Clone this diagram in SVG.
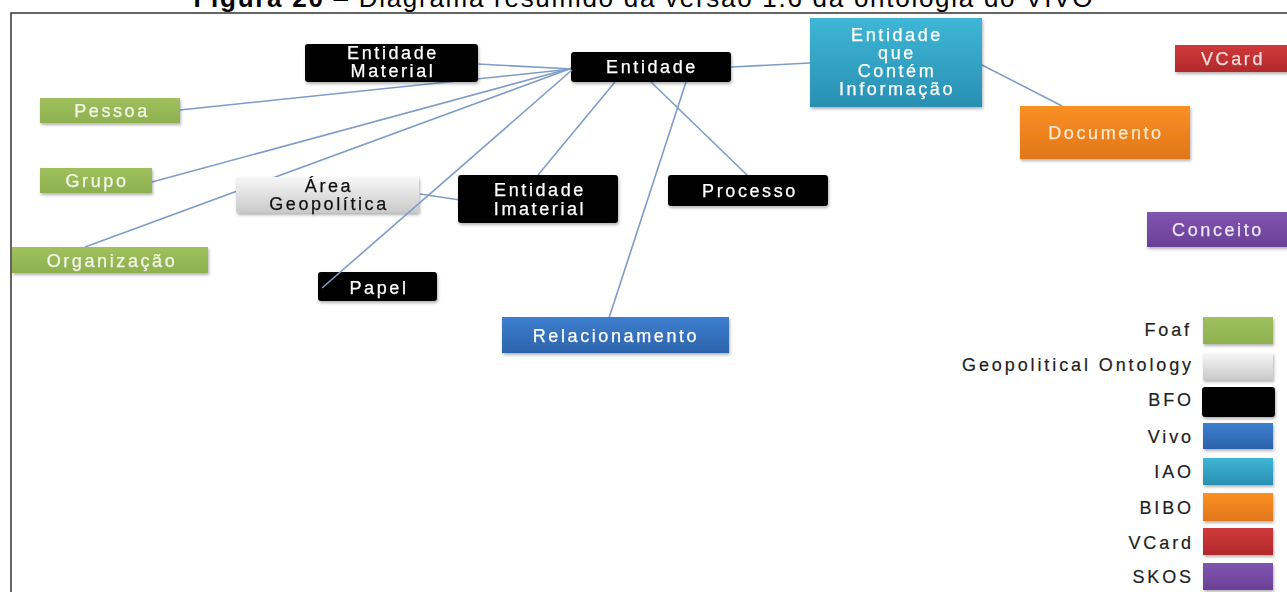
<svg xmlns="http://www.w3.org/2000/svg" width="1287" height="592" viewBox="0 0 1287 592">
<defs>
<style>
.t{font-family:"Liberation Sans",Arial,sans-serif;font-size:18px;letter-spacing:2.6px;text-anchor:middle;stroke-width:0.25px}
.w{fill:#ffffff;stroke:#ffffff}
.k{fill:#111111;stroke:#111111}
.lg{font-family:"Liberation Sans",Arial,sans-serif;font-size:18px;letter-spacing:2.9px;text-anchor:end;fill:#222;stroke:#222;stroke-width:0.2px}
.c{stroke:#7f9cc8;stroke-width:1.6;fill:none}
</style>
<linearGradient id="gG" x1="0" y1="0" x2="0" y2="1"><stop offset="0" stop-color="#a0c05e"/><stop offset="1" stop-color="#8fb04f"/></linearGradient>
<linearGradient id="gW" x1="0" y1="0" x2="0" y2="1"><stop offset="0" stop-color="#f7f7f7"/><stop offset="1" stop-color="#c9c9c9"/></linearGradient>
<linearGradient id="gC" x1="0" y1="0" x2="0" y2="1"><stop offset="0" stop-color="#3fb6d6"/><stop offset="1" stop-color="#2890b2"/></linearGradient>
<linearGradient id="gO" x1="0" y1="0" x2="0" y2="1"><stop offset="0" stop-color="#fb9024"/><stop offset="1" stop-color="#e0761a"/></linearGradient>
<linearGradient id="gR" x1="0" y1="0" x2="0" y2="1"><stop offset="0" stop-color="#d0393a"/><stop offset="1" stop-color="#b22a2c"/></linearGradient>
<linearGradient id="gP" x1="0" y1="0" x2="0" y2="1"><stop offset="0" stop-color="#8055b0"/><stop offset="1" stop-color="#6a4096"/></linearGradient>
<linearGradient id="gB" x1="0" y1="0" x2="0" y2="1"><stop offset="0" stop-color="#3d7fd0"/><stop offset="1" stop-color="#2c63aa"/></linearGradient>
<filter id="sh" x="-10%" y="-20%" width="125%" height="150%"><feDropShadow dx="1" dy="2" stdDeviation="1.5" flood-color="#000" flood-opacity="0.3"/></filter>
</defs>
<rect width="1287" height="592" fill="#ffffff"/>
<text x="643" y="7" font-family="Liberation Sans,Arial,sans-serif" font-size="26" text-anchor="middle" textLength="899" fill="#000"><tspan font-weight="bold">Figura 20</tspan> – Diagrama resumido da versão 1.6 da ontologia do VIVO</text>
<path d="M11 600 V13 H1300" fill="none" stroke="#333" stroke-width="1.5"/>

<g id="connectors">
<line class="c" x1="478" y1="64" x2="572" y2="69"/>
<line class="c" x1="180" y1="110" x2="572" y2="69"/>
<line class="c" x1="152" y1="182" x2="572" y2="68"/>
<line class="c" x1="85" y1="247" x2="572" y2="68"/>
<line class="c" x1="420" y1="194" x2="460" y2="200"/>
<line class="c" x1="538" y1="175" x2="615" y2="82"/>
<line class="c" x1="651" y1="82" x2="747" y2="175"/>
<line class="c" x1="686" y1="82" x2="609" y2="318"/>
<line class="c" x1="731" y1="67" x2="810" y2="63"/>
<line class="c" x1="982" y1="65" x2="1062" y2="106"/>
</g>

<g id="entidade-material" filter="url(#sh)"><rect x="305" y="44" width="173" height="38" rx="3" fill="#000"/><text class="t w" x="393" y="59">Entidade</text><text class="t w" x="393" y="77">Material</text></g>
<g id="entidade" filter="url(#sh)"><rect x="571" y="52" width="160" height="30" rx="3" fill="#000"/><text class="t w" x="652" y="73">Entidade</text></g>
<g id="entidade-informacao" filter="url(#sh)"><rect x="810" y="18" width="172" height="89" fill="url(#gC)"/><text class="t w" x="897" y="41">Entidade</text><text class="t w" x="897" y="59">que</text><text class="t w" x="897" y="77">Contém</text><text class="t w" x="897" y="95">Informação</text></g>
<g id="vcard" filter="url(#sh)"><rect x="1175" y="45" width="120" height="27" fill="url(#gR)"/><text class="t" x="1233" y="65" fill="#f6dede" stroke="#f6dede">VCard</text></g>
<g id="documento" filter="url(#sh)"><rect x="1020" y="106" width="170" height="53" fill="url(#gO)"/><text class="t" x="1106" y="139" fill="#fde7cf" stroke="#fde7cf">Documento</text></g>
<g id="conceito" filter="url(#sh)"><rect x="1147" y="212" width="145" height="35" fill="url(#gP)"/><text class="t" x="1218" y="236" fill="#efe6f8" stroke="#efe6f8">Conceito</text></g>
<g id="pessoa" filter="url(#sh)"><rect x="40" y="98" width="140" height="25" fill="url(#gG)"/><text class="t" x="112" y="117" fill="#f3f7ea" stroke="#f3f7ea">Pessoa</text></g>
<g id="grupo" filter="url(#sh)"><rect x="40" y="168" width="112" height="25" fill="url(#gG)"/><text class="t" x="97" y="187" fill="#f3f7ea" stroke="#f3f7ea">Grupo</text></g>
<g id="organizacao" filter="url(#sh)"><rect x="12" y="247" width="196" height="26" fill="url(#gG)"/><text class="t" x="112" y="267" fill="#f3f7ea" stroke="#f3f7ea">Organização</text></g>
<g id="area-geopolitica" filter="url(#sh)"><rect x="236" y="177" width="183" height="36" rx="2" fill="url(#gW)"/><text class="t k" x="329" y="192">Área</text><text class="t k" x="329" y="210">Geopolítica</text></g>
<g id="entidade-imaterial" filter="url(#sh)"><rect x="458" y="175" width="160" height="48" rx="3" fill="#000"/><text class="t w" x="540" y="196">Entidade</text><text class="t w" x="540" y="215">Imaterial</text></g>
<g id="processo" filter="url(#sh)"><rect x="668" y="175" width="160" height="31" rx="3" fill="#000"/><text class="t w" x="750" y="197">Processo</text></g>
<g id="papel" filter="url(#sh)"><rect x="318" y="272" width="119" height="29" rx="3" fill="#000"/><text class="t w" x="379" y="294">Papel</text></g>
<g id="relacionamento" filter="url(#sh)"><rect x="502" y="317" width="227" height="36" fill="url(#gB)"/><text class="t w" x="616" y="342">Relacionamento</text></g>

<g id="connectors-top">
<line class="c" x1="322" y1="288" x2="572" y2="70"/>
</g>

<g id="legend">
<text class="lg" x="1192" y="336">Foaf</text><rect x="1203" y="317" width="70" height="27" fill="url(#gG)" filter="url(#sh)"/>
<text class="lg" x="1194" y="371">Geopolitical Ontology</text><rect x="1203" y="353" width="70" height="27" fill="url(#gW)" filter="url(#sh)"/>
<text class="lg" x="1194" y="406">BFO</text><rect x="1202" y="387" width="73" height="30" rx="3" fill="#000" filter="url(#sh)"/>
<text class="lg" x="1194" y="443">Vivo</text><rect x="1203" y="423" width="70" height="26" fill="url(#gB)" filter="url(#sh)"/>
<text class="lg" x="1194" y="478">IAO</text><rect x="1203" y="458" width="70" height="27" fill="url(#gC)" filter="url(#sh)"/>
<text class="lg" x="1194" y="514">BIBO</text><rect x="1203" y="493" width="70" height="28" fill="url(#gO)" filter="url(#sh)"/>
<text class="lg" x="1194" y="549">VCard</text><rect x="1203" y="528" width="70" height="27" fill="url(#gR)" filter="url(#sh)"/>
<text class="lg" x="1194" y="583">SKOS</text><rect x="1203" y="563" width="70" height="27" fill="url(#gP)" filter="url(#sh)"/>
</g>
</svg>
